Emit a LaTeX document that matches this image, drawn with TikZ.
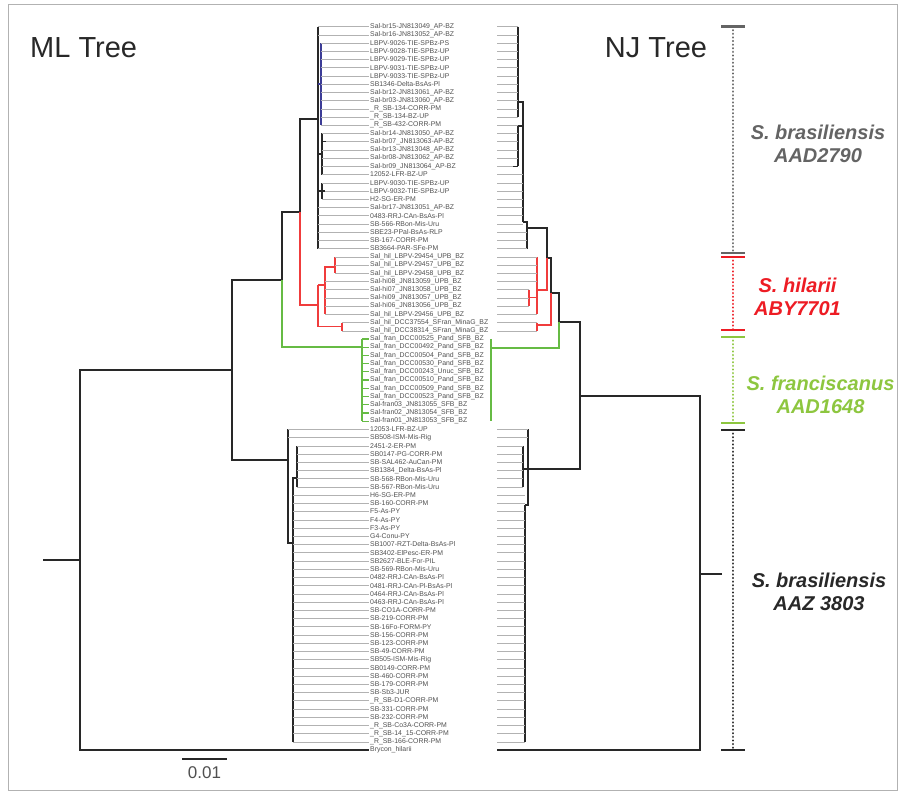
\documentclass[tikz,border=0pt]{standalone}
\usepackage{fontspec}
\setmainfont{Liberation Sans}
\definecolor{treeblack}{RGB}{40,40,40}
\definecolor{leadgray}{RGB}{178,178,178}
\definecolor{labgray}{RGB}{80,80,80}
\definecolor{treered}{RGB}{240,60,60}
\definecolor{treegreen}{RGB}{102,187,68}
\definecolor{treeblue}{RGB}{60,60,150}
\definecolor{sgray}{RGB}{100,100,100}
\definecolor{sred}{RGB}{237,28,36}
\definecolor{sgreen}{RGB}{141,198,63}
\begin{document}
\begin{tikzpicture}[x=1pt,y=-1pt,
        br/.style={line width=1.3pt, draw=treeblack},
        leader/.style={line width=0.45pt, draw=leadgray},
        tip/.style={anchor=west, inner sep=1.5pt,
        font=\fontsize{6.9}{8}\selectfont, text=labgray},
        title/.style={font=\fontsize{29}{32}\selectfont, text=treeblack, inner sep=0pt},
        species/.style={align=center, inner sep=0pt,
        font=\fontsize{20}{23}\selectfont\bfseries\itshape},
        dotline/.style={line width=2.4pt, line cap=round, dash pattern=on 0.01pt off 3.6pt},
        capline/.style={line width=2.4pt},
        ]
        \useasboundingbox (0,0) rectangle (905,794);
        \draw[line width=0.8pt, draw=leadgray] (8,4) rectangle (897,790);

        % tip labels
        \foreach \lab [count=\i] in {Sal-br15-JN813049\_AP-BZ, Sal-br16-JN813052\_AP-BZ, LBPV-9026-TIE-SPBz-PS, LBPV-9028-TIE-SPBz-UP, LBPV-9029-TIE-SPBz-UP, LBPV-9031-TIE-SPBz-UP, LBPV-9033-TIE-SPBz-UP, SB1346-Delta-BsAs-Pl, Sal-br12-JN813061\_AP-BZ, Sal-br03-JN813060\_AP-BZ, \_R\_SB-134-CORR-PM, \_R\_SB-134-BZ-UP, \_R\_SB-432-CORR-PM, Sal-br14-JN813050\_AP-BZ, Sal-br07\_JN813063-AP-BZ, Sal-br13-JN813048\_AP-BZ, Sal-br08-JN813062\_AP-BZ, Sal-br09\_JN813064\_AP-BZ, 12052-LFR-BZ-UP, LBPV-9030-TIE-SPBz-UP, LBPV-9032-TIE-SPBz-UP, H2-SG-ER-PM, Sal-br17-JN813051\_AP-BZ, 0483-RRJ-CAn-BsAs-Pl, SB-566-RBon-Mis-Uru, SBE23-PPal-BsAs-RLP, SB-167-CORR-PM, SB3664-PAR-SFe-PM, Sal\_hil\_LBPV-29454\_UPB\_BZ, Sal\_hil\_LBPV-29457\_UPB\_BZ, Sal\_hil\_LBPV-29458\_UPB\_BZ, Sal-hi08\_JN813059\_UPB\_BZ, Sal-hi07\_JN813058\_UPB\_BZ, Sal-hi09\_JN813057\_UPB\_BZ, Sal-hi06\_JN813056\_UPB\_BZ, Sal\_hil\_LBPV-29456\_UPB\_BZ, Sal\_hil\_DCC37554\_SFran\_MinaG\_BZ, Sal\_hil\_DCC38314\_SFran\_MinaG\_BZ, Sal\_fran\_DCC00525\_Pand\_SFB\_BZ, Sal\_fran\_DCC00492\_Pand\_SFB\_BZ, Sal\_fran\_DCC00504\_Pand\_SFB\_BZ, Sal\_fran\_DCC00530\_Pand\_SFB\_BZ, Sal\_fran\_DCC00243\_Unuc\_SFB\_BZ, Sal\_fran\_DCC00510\_Pand\_SFB\_BZ, Sal\_fran\_DCC00509\_Pand\_SFB\_BZ, Sal\_fran\_DCC00523\_Pand\_SFB\_BZ, Sal-fran03\_JN813055\_SFB\_BZ, Sal-fran02\_JN813054\_SFB\_BZ, Sal-fran01\_JN813053\_SFB\_BZ, 12053-LFR-BZ-UP, SB508-ISM-Mis-Rig, 2451-2-ER-PM, SB0147-PG-CORR-PM, SB-SAL462-AuCan-PM, SB1384\_Delta-BsAs-Pl, SB-568-RBon-Mis-Uru, SB-567-RBon-Mis-Uru, H6-SG-ER-PM, SB-160-CORR-PM, F5-As-PY, F4-As-PY, F3-As-PY, G4-Conu-PY, SB1007-RZT-Delta-BsAs-Pl, SB3402-ElPesc-ER-PM, SB2627-BLE-For-PIL, SB-569-RBon-Mis-Uru, 0482-RRJ-CAn-BsAs-Pl, 0481-RRJ-CAn-Pl-BsAs-Pl, 0464-RRJ-CAn-BsAs-Pl, 0463-RRJ-CAn-BsAs-Pl, SB-CO1A-CORR-PM, SB-219-CORR-PM, SB-16Fo-FORM-PY, SB-156-CORR-PM, SB-123-CORR-PM, SB-49-CORR-PM, SB505-ISM-Mis-Rig, SB0149-CORR-PM, SB-460-CORR-PM, SB-179-CORR-PM, SB-Sb3-JUR, \_R\_SB-D1-CORR-PM, SB-331-CORR-PM, SB-232-CORR-PM, \_R\_SB-Co3A-CORR-PM, \_R\_SB-14\_15-CORR-PM, \_R\_SB-166-CORR-PM, Brycon\_hilarii}
        {
            \pgfmathsetmacro\ty{26.6+8.22*(\i-1)}
            \node[tip] (t\i) at (368.5,\ty) {\lab};
        }

        % ML tree
        \coordinate (mlstub) at (43,560);
        \coordinate (mlroot) at (80,560);
        \coordinate (mla) at (232,370);
        \coordinate (mlb) at (282,280);
        \coordinate (mlc) at (300,212);
        \coordinate (mlU) at (318,119);
        \coordinate (mlBlue) at (321,84);
        \coordinate (mlV) at (322,154);
        \coordinate (mlV15) at (326,154);
        \coordinate (mlW) at (322,191);
        \coordinate (mlW21) at (325,191);
        \coordinate (mlH) at (318,305);
        \coordinate (mlHb) at (325,285);
        \coordinate (mlC) at (335,267);
        \coordinate (mlD) at (342,326.6);
        \coordinate (mlG) at (362,347);
        \coordinate (mlL) at (288,460);
        \coordinate (mlS2) at (293,543);
        \coordinate (mlS1) at (297,478);

        \draw[br] (mlstub) -- (mlroot);
        \draw[br] (mlroot) |- (mla);
        \draw[br, line width=1.6pt] (mlroot) |- (t89.west);
        \draw[br] (mla) |- (mlb);
        \draw[br] (mla) |- (mlL);
        \draw[br] (mlb) |- (mlc);
        \draw[br, draw=treegreen] (mlb) |- (mlG);
        \draw[br] (mlc) |- (mlU);
        \draw[br, draw=treered] (mlc) |- (mlH);

        \draw[br] (mlU |- t1.west) -- (mlU |- t28.west);
        \draw[br, draw=treeblue] (mlU |- mlBlue) -- (mlBlue);
        \draw[br, draw=treeblue, line width=1.8pt] (mlBlue |- t3.west) -- (mlBlue |- t13.west);
        \draw[br] (mlU |- mlV) -- (mlV);
        \draw[br] (mlV |- t14.west) -- (mlV |- t19.west);
        \draw[br] (mlV |- t15.west) -- (mlV15 |- t15.west);
        \draw[br] (mlU |- mlW) -- (mlW);
        \draw[br] (mlW |- t20.west) -- (mlW |- t22.west);
        \draw[br] (mlW |- t21.west) -- (mlW21 |- t21.west);

        \draw[br, draw=treered] (mlH |- mlHb) -- (mlH |- mlD);
        \draw[br, draw=treered] (mlH |- mlHb) -- (mlHb);
        \draw[br, draw=treered] (mlH |- mlD) -- (mlD);
        \draw[br, draw=treered] (mlHb) |- (mlC);
        \draw[br, draw=treered] (mlHb) -- (mlHb |- t36.west);
        \draw[br, draw=treered] (mlC |- t29.west) -- (mlC |- t31.west);
        \draw[br, draw=treered] (mlD |- t37.west) -- (mlD |- t38.west);

        \draw[br, draw=treegreen] (mlG |- t39.west) -- (mlG |- t49.west);
        \foreach \k in {39,...,49}
            \draw[br, draw=treegreen] (mlG |- t\k.west) -- (t\k.west);

        \draw[br] (mlL) |- (mlS2);
        \draw[br] (mlL) -- (mlL |- t50.west);
        \draw[br] (mlS2) |- (mlS1);
        \draw[br] (mlS2) -- (mlS2 |- t88.west);
        \draw[br] (mlS1 |- t52.west) -- (mlS1 |- t57.west);

        \foreach \nd/\lst in {mlU/{1,2,23,24,25,26,27,28}, mlBlue/{3,...,13},
            mlV/{14,16,17,18,19}, mlV15/{15}, mlW/{20,22}, mlW21/{21},
            mlC/{29,30,31}, mlHb/{32,...,36}, mlD/{37,38},
            mlL/{50,51}, mlS1/{52,...,57}, mlS2/{58,...,88}}
            \foreach \k in \lst
                \draw[leader] (\nd |- t\k.west) -- (t\k.west);

        % NJ tree
        \coordinate (njL) at (497,0);
        \coordinate (nja) at (518,102);
        \coordinate (njb) at (518,126);
        \coordinate (njb18) at (513,126);
        \coordinate (njc) at (523,222);
        \coordinate (njd) at (527,228);
        \coordinate (nje) at (547,258);
        \coordinate (njr1) at (537,290);
        \coordinate (njr2) at (529,297.8);
        \coordinate (njr3) at (537,325);
        \coordinate (njf) at (551,293);
        \coordinate (njg) at (559,322);
        \coordinate (njgreen) at (491,348);
        \coordinate (njh) at (580,396);
        \coordinate (njm0) at (528,469);
        \coordinate (njm1) at (523,469);
        \coordinate (njm2) at (525,505);
        \coordinate (njroot) at (700,574);
        \coordinate (njstub) at (722,574);

        \draw[br] (njstub) -- (njroot);
        \draw[br] (njroot) |- (njh);
        \draw[br, line width=1.6pt] (njroot) |- (njL |- t89.west);
        \draw[br] (njh) |- (njg);
        \draw[br] (njh) |- (njm0);
        \draw[br] (njg) |- (njf);
        \draw[br, draw=treegreen] (njg) |- (njgreen);
        \draw[br] (njf) |- (nje);
        \draw[br, draw=treered] (njf) |- (njr3);
        \draw[br] (nje) |- (njd);
        \draw[br, draw=treered] (nje) |- (njr1);
        \draw[br] (njd) |- (njc);
        \draw[br] (njd) -- (njd |- t28.west);
        \draw[br] (njc) |- (nja);
        \draw[br] (njc) |- (njb);
        \draw[br] (nja |- t1.west) -- (nja |- t12.west);
        \draw[br] (njb |- t13.west) -- (njb |- t18.west);
        \draw[br] (njb |- t18.west) -- (njb18 |- t18.west);

        \draw[br, draw=treered] (njr1 |- t29.west) -- (njr1 |- t36.west);
        \draw[br, draw=treered] (njr1 |- njr2) -- (njr2);
        \draw[br, draw=treered] (njr2 |- t33.west) -- (njr2 |- t35.west);
        \draw[br, draw=treered] (njr3 |- t37.west) -- (njr3 |- t38.west);

        \draw[br, draw=treegreen] (njgreen |- t39.west) -- (njgreen |- t49.west);

        \draw[br] (njm0) -- (njm1);
        \draw[br] (njm0) |- (njm2);
        \draw[br] (njm0) -- (njm0 |- t50.west);
        \draw[br] (njm1 |- t52.west) -- (njm1 |- t57.west);
        \draw[br] (njm2) -- (njm2 |- t88.west);

        \foreach \nd/\lst in {nja/{1,...,12}, njb/{13,...,17}, njb18/{18},
            njc/{19,...,25}, njd/{26,27,28}, njr1/{29,30,31,32,36},
            njr2/{33,34,35}, njr3/{37,38},
            njm0/{50,51}, njm1/{52,...,57}, njm2/{58,...,88}}
            \foreach \k in \lst
                \draw[leader] (njL |- t\k.west) -- (\nd |- t\k.west);

        % titles and scale
        \node[title, anchor=west] (mltitle) at (30,47.5) {ML Tree};
        \node[title] (njtitle) at (656,47.5) {NJ Tree};
        \coordinate (sbA) at (182,759);
        \coordinate (sbB) at (227,759);
        \draw[line width=2pt, draw=treeblack] (sbA) -- (sbB);
        \node[font=\fontsize{17}{20}\selectfont, text=labgray] (sblab) at (204.5,773) {0.01};

        % species brackets
        \coordinate (gA) at (733,26.6);
        \coordinate (gB) at (733,253);
        \coordinate (rA) at (733,257);
        \coordinate (rB) at (733,330);
        \coordinate (eA) at (733,337);
        \coordinate (eB) at (733,423);
        \coordinate (kA) at (733,430);
        \coordinate (kB) at (733,750);
        \foreach \p/\q/\c in {gA/gB/sgray, rA/rB/sred, eA/eB/sgreen, kA/kB/treeblack}
        {
            \draw[dotline, draw=\c] (\p) -- (\q);
            \draw[capline, draw=\c] ([xshift=-12pt]\p) -- ([xshift=12pt]\p);
            \draw[capline, draw=\c] ([xshift=-12pt]\q) -- ([xshift=12pt]\q);
        }
        \node[species, text=sgray] (spgray) at (818,143.5) {S. brasiliensis\\AAD2790};
        \node[species, text=sred] (spred) at (797.5,296.5) {S. hilarii\\ABY7701};
        \node[species, text=sgreen] (spgreen) at (820.5,395) {S. franciscanus\\AAD1648};
        \node[species, text=treeblack] (spblack) at (819,591.5) {S. brasiliensis\\AAZ 3803};
\end{tikzpicture}
\end{document}
